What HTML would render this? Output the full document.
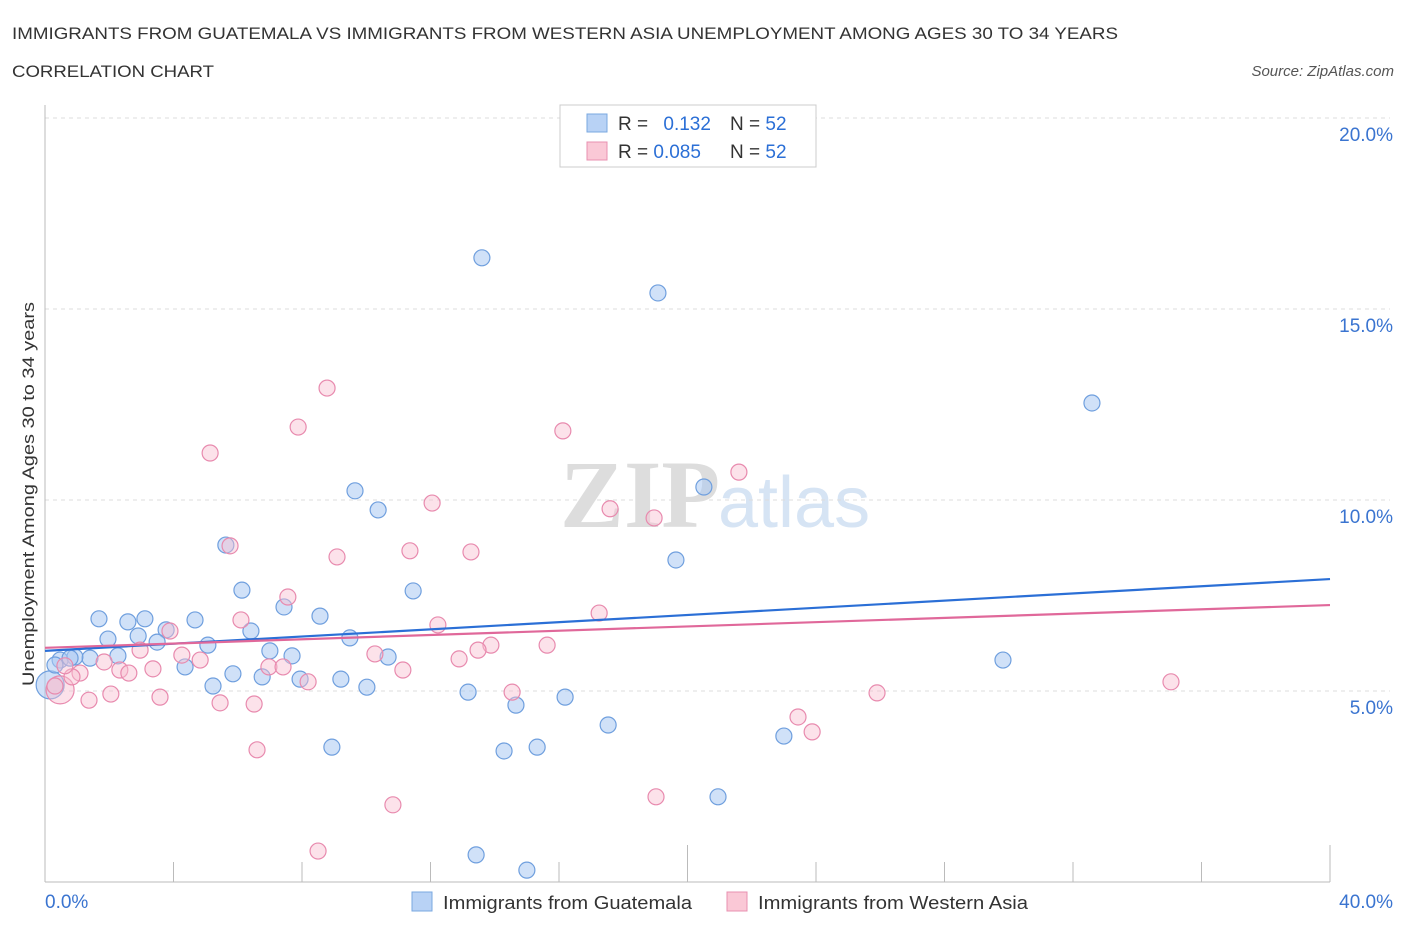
<!DOCTYPE html>
<html><head><meta charset="utf-8"><style>
body{margin:0;background:#fff;font-family:"Liberation Sans",sans-serif;}
#wrap{position:relative;width:1406px;height:930px;overflow:hidden;}
</style></head><body>
<div id="wrap">
<svg id="svg" width="1406" height="930" xmlns="http://www.w3.org/2000/svg">
<text x="12" y="39" font-size="17" fill="#333" textLength="1106" lengthAdjust="spacingAndGlyphs">IMMIGRANTS FROM GUATEMALA VS IMMIGRANTS FROM WESTERN ASIA UNEMPLOYMENT AMONG AGES 30 TO 34 YEARS</text>
<text x="12" y="77" font-size="17" fill="#333" textLength="202" lengthAdjust="spacingAndGlyphs">CORRELATION CHART</text>
<text x="1394" y="76" font-size="15" fill="#555" font-style="italic" text-anchor="end">Source: ZipAtlas.com</text>
<text x="720" y="527" font-size="96" fill="#ddd" font-family="Liberation Serif" font-weight="bold" text-anchor="end">ZIP</text>
<text x="718" y="527" font-size="72" fill="#d6e4f4">atlas</text>
<g id="grid"></g>
<g id="axes"></g>
<g id="marks"></g>
<text transform="translate(34,494) rotate(-90)" font-size="17" fill="#333" text-anchor="middle" textLength="384" lengthAdjust="spacingAndGlyphs">Unemployment Among Ages 30 to 34 years</text>
<g>
<rect x="560" y="105" width="256" height="62" fill="#fff" stroke="#ccc"/>
<rect x="587" y="114" width="20" height="18" fill="#b8d2f5" stroke="#7aa8e0"/>
<rect x="587" y="142" width="20" height="18" fill="#fac8d6" stroke="#e890b0"/>
<text x="618" y="130" font-size="19" fill="#333">R = <tspan fill="#2b6fd6" dx="10">0.132</tspan></text>
<text x="730" y="130" font-size="19" fill="#333">N = <tspan fill="#2b6fd6">52</tspan></text>
<text x="618" y="158" font-size="19" fill="#333">R = <tspan fill="#2b6fd6">0.085</tspan></text>
<text x="730" y="158" font-size="19" fill="#333">N = <tspan fill="#2b6fd6">52</tspan></text>
</g>
<g>
<rect x="412" y="892" width="20" height="19" fill="#b8d2f5" stroke="#7aa8e0"/>
<text x="443" y="909" font-size="18" fill="#333" textLength="249" lengthAdjust="spacingAndGlyphs">Immigrants from Guatemala</text>
<rect x="727" y="892" width="20" height="19" fill="#fac8d6" stroke="#e890b0"/>
<text x="758" y="909" font-size="18" fill="#333" textLength="270" lengthAdjust="spacingAndGlyphs">Immigrants from Western Asia</text>
</g>
</svg>
</div>
<script>
const yTicks=[5,10,15,20];
const yTickLabels=["5.0%","10.0%","15.0%","20.0%"];
const xTickLabels=["0.0%","40.0%"];
const blueX=[13.60,19.08,32.59,9.65,10.37,20.51,5.63,19.64,6.13,11.46,7.44,8.56,1.68,2.58,3.11,4.67,3.77,2.90,1.96,3.49,6.41,5.07,9.49,7.00,7.69,0.47,1.40,2.27,0.93,4.36,5.85,6.76,7.94,9.21,10.68,5.23,10.02,13.17,14.66,16.19,17.53,23.00,29.82,8.93,14.29,15.32,20.95,13.42,15.00,0.16,0.31,0.78];
const blueY=[16.34,15.42,12.54,10.24,9.74,10.34,8.82,8.43,7.64,7.62,7.20,6.96,6.89,6.81,6.89,6.86,6.60,6.44,6.36,6.28,6.57,6.20,6.39,6.05,5.92,5.81,5.86,5.92,5.89,5.63,5.45,5.37,5.31,5.31,5.89,5.13,5.10,4.97,4.63,4.84,4.11,3.82,5.81,3.53,3.43,3.53,2.23,0.71,0.31,5.16,5.68,5.86];
const pinkX=[8.78,7.88,5.14,16.12,21.60,12.05,17.59,18.96,5.76,11.36,13.26,9.09,7.56,17.25,6.10,12.23,3.89,15.63,13.88,13.48,10.27,4.26,4.83,1.84,2.96,3.36,2.33,2.61,1.09,6.97,7.41,8.19,11.14,12.89,14.54,25.90,35.05,1.37,2.05,3.58,5.45,6.51,23.44,23.88,6.60,10.83,19.02,8.50,0.47,0.84,0.62,0.31];
const pinkY=[12.93,11.91,11.23,11.81,10.73,9.92,9.77,9.53,8.80,8.67,8.64,8.51,7.46,7.04,6.86,6.73,6.57,6.20,6.20,6.07,5.97,5.94,5.81,5.76,6.07,5.58,5.55,5.47,5.47,5.63,5.63,5.24,5.55,5.84,4.97,4.95,5.24,4.76,4.92,4.84,4.69,4.66,4.32,3.93,3.46,2.02,2.23,0.81,5.03,5.37,5.66,5.13];
const blueTrend=[6.05,7.93];
const pinkTrend=[6.13,7.25];
const X0=45,X1=1330,Y0=882,PY=191/5;
function sx(v){return X0+(v/40)*(X1-X0);}
function sy(v){return Y0-v*PY;}
const NS="http://www.w3.org/2000/svg";
function mk(tag,attrs,parent){const e=document.createElementNS(NS,tag);for(const k in attrs)e.setAttribute(k,attrs[k]);parent.appendChild(e);return e;}
const grid=document.getElementById('grid'),axes=document.getElementById('axes'),marks=document.getElementById('marks');
yTicks.forEach((t,i)=>{
 const l=mk('line',{x1:X0,x2:X1+60,y1:sy(t),y2:sy(t),stroke:'#ddd','stroke-dasharray':'4,4'},grid);
 
 
 const tx=mk('text',{x:1393,y:sy(t)+23,'font-size':19,fill:'#3a74d0','text-anchor':'end'},axes);
 tx.textContent=yTickLabels[i];
 
 
});
const la=mk('line',{x1:X0,x2:X0,y1:105,y2:Y0,stroke:'#bbb'},axes);


const lb=mk('line',{x1:X0,x2:X1,y1:Y0,y2:Y0,stroke:'#bbb'},axes);


for(let i=0;i<=10;i++){
 const x=sx(i*4);
 const t=mk('line',{x1:x,x2:x,y1:i%5==0?845:862,y2:Y0,stroke:'#bbb'},axes);
 
 
}
[[0,'start',45],[40,'end',1393]].forEach((d,i)=>{
 const tx=mk('text',{x:d[2],y:908,'font-size':19,fill:'#3a74d0','text-anchor':d[1]},axes);
 tx.textContent=xTickLabels[i];
 
 
});
function pts(xs,ys,fill,stroke,name,bigIdx){
 xs.forEach((x,i)=>{
  const c=mk('circle',{cx:sx(x),cy:sy(ys[i]),r:i===bigIdx?14:8,fill:fill,stroke:stroke,'stroke-width':1.2},marks);
  
  
 });
}
pts(blueX,blueY,'rgba(170,200,242,0.55)','#6f9fde','point-guatemala',49);
pts(pinkX,pinkY,'rgba(248,190,208,0.45)','#e88aae','point-western-asia',48);
const tb=mk('line',{x1:sx(0),x2:sx(40),y1:sy(blueTrend[0]),y2:sy(blueTrend[1]),stroke:'#2b6fd6','stroke-width':2.2},marks);


const tp=mk('line',{x1:sx(0),x2:sx(40),y1:sy(pinkTrend[0]),y2:sy(pinkTrend[1]),stroke:'#e0689a','stroke-width':2.2},marks);


</script>
</body></html>
